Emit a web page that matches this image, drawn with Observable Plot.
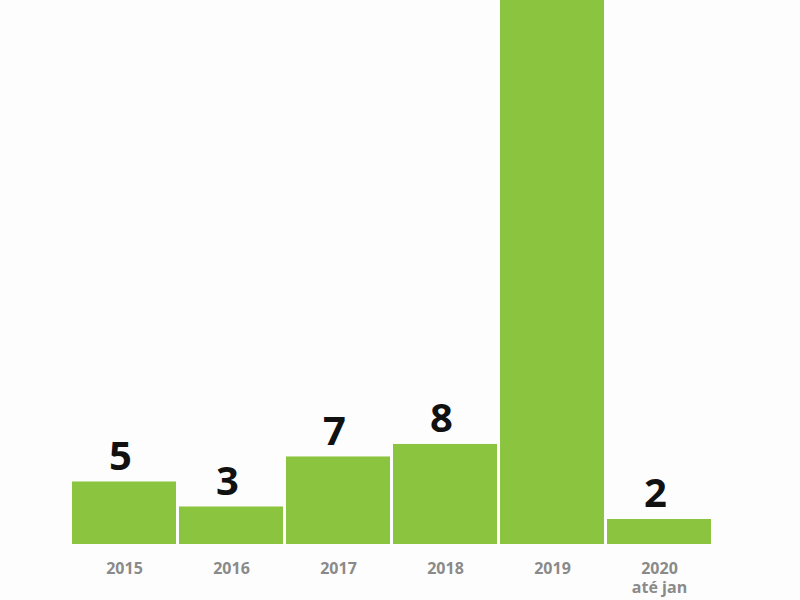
<!DOCTYPE html>
<html><head><meta charset="utf-8">
<script src="https://cdn.jsdelivr.net/npm/d3@7"></script>
<script src="https://cdn.jsdelivr.net/npm/@observablehq/plot@0.6"></script>
<style>
html,body{margin:0;padding:0;background:#fdfdfd;overflow:hidden;}
</style>
</head><body>
<div id="chart"></div>
<script>
const years = ["2015", "2016", "2017", "2018", "2019", "2020"];
const tickLabels = ["2015", "2016", "2017", "2018", "2019", "2020\naté jan"];
const values = [5, 3, 7, 8, 47, 2];

const data = years.map((y, i) => ({year: y, value: values[i], label: tickLabels[i]}));
const labelOf = new Map(data.map(d => [d.year, d.label]));

const chart = Plot.plot({
  width: 800,
  height: 600,
  marginLeft: 69,
  marginRight: 86,
  marginTop: 0,
  marginBottom: 56,
  style: {background: "#fdfdfd", fontFamily: "'Open Sans', sans-serif"},
  x: {domain: years, padding: 0.028, align: 0.5},
  y: {domain: [0, 43.5], axis: null},
  marks: [
    Plot.barY(data, {x: "year", y: "value", fill: "#8bc43f", clip: true}),
    Plot.text(data.filter(d => d.value < 43.5), {
      x: "year", y: "value", text: d => String(d.value),
      dy: -25, dx: -4, fontSize: 40, fontWeight: "bold", fill: "#111"
    }),
    Plot.axisX({
      tickSize: 0, tickPadding: 16, fontSize: 16, fontWeight: "bold",
      fill: "#8a8a8a", label: null, tickFormat: d => labelOf.get(d), lineHeight: 1.2
    })
  ]
});
document.getElementById("chart").appendChild(chart);
</script>
</body></html>
